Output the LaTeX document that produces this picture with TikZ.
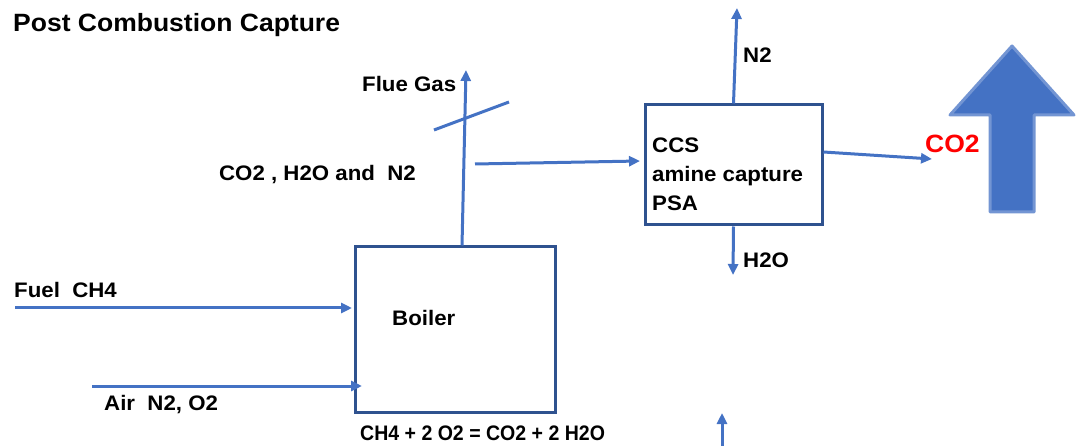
\documentclass[tikz,border=0pt]{standalone}
\usepackage{fontspec}
\setmainfont[FakeStretch=1.06]{Liberation Sans}
\newfontfamily\narrowfont[FakeStretch=0.93]{Liberation Sans}
\usetikzlibrary{arrows.meta}
\definecolor{flowblue}{RGB}{68,114,196}
\definecolor{boxblue}{RGB}{47,82,143}

\begin{document}
\begin{tikzpicture}[>={Triangle[length=11pt,width=10pt]},x=1pt,y=-1pt,
  flow/.style={->,flowblue,line width=3pt},
  unit/.style={draw=boxblue,line width=3pt,inner sep=0pt},
  lbl/.style={font=\fontsize{21}{29}\selectfont\bfseries,inner sep=0pt,anchor=base west}]
  \useasboundingbox (0,0) rectangle (1079,446);
  \node[lbl,font=\fontsize{25}{30}\selectfont\bfseries] (title) at (13,32) {Post Combustion Capture};
  % boiler and capture unit
  \node[unit,minimum width=200pt,minimum height=165pt] (boiler) at (455,329.5) {};
  \node[unit,minimum width=177pt,minimum height=120pt] (ccs) at (733.5,165) {};
  \node[lbl] (boilerlbl) at (392,326) {Boiler};
  \node[lbl,align=left] (ccslbl) at (652,211) {CCS\\amine capture\\PSA};
  % free ends of the streams
  \coordinate (fuelin) at (15,308);
  \coordinate (fueltip) at (352,308);
  \coordinate (airin) at (92,386);
  \coordinate (airtip) at (362,386);
  \coordinate (fluetop) at (466,70);
  \coordinate (slashA) at (434,130);
  \coordinate (slashB) at (509,102);
  \coordinate (gasout) at (475,164);
  \coordinate (ccsin) at (640,161);
  \coordinate (n2top) at (737,8);
  \coordinate (h2obot) at (733,275);
  \coordinate (co2tip) at (932,159);
  \coordinate (botin) at (722,448);
  \coordinate (bottip) at (722,413);
  % inputs to the boiler
  \draw[flow] (fuelin) -- (fueltip);
  \draw[flow] (airin) -- (airtip);
  \node[lbl] (fuellbl) at (14,298) {Fuel\ \ CH4};
  \node[lbl] (airlbl) at (104,410) {Air\ \ N2, O2};
  \node[lbl,font=\fontsize{21}{25}\selectfont\narrowfont\bfseries] (reaction) at (360,440) {CH4 + 2 O2 = CO2 + 2 H2O};
  % flue gas stack and branch to ccs
  \draw[flow] ([xshift=7pt]boiler.north) -- (fluetop);
  \draw[flowblue,line width=3pt] (slashA) -- (slashB);
  \draw[flow] (gasout) -- (ccsin);
  \node[lbl] (fluelbl) at (362,92) {Flue Gas};
  \node[lbl,anchor=base east] (gaslbl) at (416,181) {CO2 , H2O and\ \ N2};
  % outputs of ccs
  \draw[flow] (ccs.north) -- (n2top);
  \draw[flow] (ccs.south) -- (h2obot);
  \draw[flow] ([yshift=13pt]ccs.east) -- (co2tip);
  \node[lbl] (n2lbl) at (743,63) {N2};
  \node[lbl] (h2olbl) at (743,268) {H2O};
  \node[lbl,font=\fontsize{25}{30}\selectfont\bfseries,red] (co2lbl) at (925,153) {CO2};
  \draw[flow] (botin) -- (bottip);
  % big arrow
  \filldraw[fill=flowblue,draw=flowblue!75,line width=3pt,line join=round]
    (990,212) -- (990,115) -- (950,115) -- (1012,46) -- (1074,115) -- (1034,115) -- (1034,212) -- cycle;
\end{tikzpicture}
\end{document}
